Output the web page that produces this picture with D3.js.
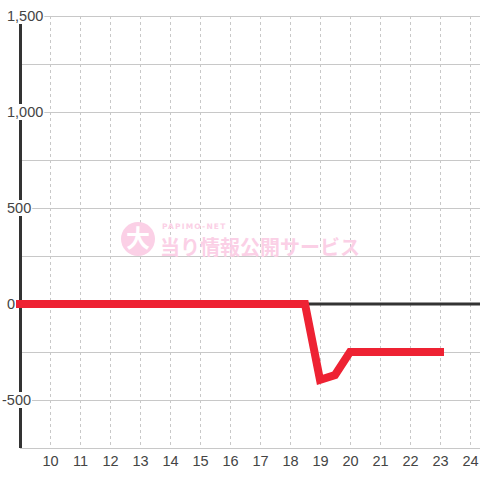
<!DOCTYPE html>
<html><head><meta charset="utf-8">
<script src="https://cdn.jsdelivr.net/npm/d3@7"></script>
<style>html,body{margin:0;padding:0;background:#fff}svg{display:block}</style>
</head><body>
<script>
const xVals = [9, 18.5, 19, 19.5, 20, 23];
const yVals = [0, 0, -395, -370, -250, -250];
const xTicks = [10,11,12,13,14,15,16,17,18,19,20,21,22,23,24];
const yTickLabels = [1500, 1000, 500, 0, -500];
const yGrid = [1500,1250,1000,750,500,250,0,-250,-500,-750];

const W = 480, H = 480;
const svg = d3.select("body").append("svg").attr("width", W).attr("height", H);
svg.append("rect").attr("width", W).attr("height", H).attr("fill", "#fff");

const x = d3.scaleLinear().domain([9, 24]).range([20, 470]);
const y = d3.scaleLinear().domain([-750, 1500]).range([448, 16]);

// vertical dashed grid
svg.append("g").selectAll("line").data(xTicks).join("line")
  .attr("x1", d => x(d) + 0.5).attr("x2", d => x(d) + 0.5)
  .attr("y1", 16).attr("y2", 448)
  .attr("stroke", "#c8c8c8").attr("stroke-dasharray", "3,3").attr("stroke-width", 1);

// horizontal grid
svg.append("g").selectAll("line").data(yGrid).join("line")
  .attr("x1", 20).attr("x2", W)
  .attr("y1", d => y(d) + 0.5).attr("y2", d => y(d) + 0.5)
  .attr("stroke", "#c8c8c8").attr("stroke-width", 1);

// watermark
const wm = svg.append("g");
wm.append("circle").attr("cx", 138).attr("cy", 239).attr("r", 17).attr("fill", "#fbd0e6");
wm.append("text").attr("x", 138).attr("y", 247).attr("text-anchor", "middle")
  .attr("font-family", "Noto Sans CJK JP").attr("font-weight", "bold").attr("font-size", 24)
  .attr("fill", "#fff").text("大");
wm.append("text").attr("x", 162).attr("y", 229)
  .attr("font-family", "DejaVu Sans").attr("font-weight", "bold").attr("font-size", 7.5)
  .attr("letter-spacing", 1.2).attr("fill", "#fbd0e6").text("PAPIMO-NET");
wm.append("text").attr("x", 160).attr("y", 255)
  .attr("font-family", "Noto Sans CJK JP").attr("font-weight", "bold").attr("font-size", 20)
  .attr("fill", "#fbd0e6").text("当り情報公開サービス");

// y axis line
svg.append("line").attr("x1", 20.5).attr("x2", 20.5).attr("y1", 16).attr("y2", 448)
  .attr("stroke", "#333").attr("stroke-width", 3);

// zero line
svg.append("line").attr("x1", 20).attr("x2", W).attr("y1", y(0)).attr("y2", y(0))
  .attr("stroke", "#333").attr("stroke-width", 3);

// y labels with background
const fmt = d3.format(",");
const yl = svg.append("g").selectAll("g").data(yTickLabels).join("g");
yl.each(function(d) {
  const g = d3.select(this);
  const t = g.append("text").attr("x", 7).attr("y", y(d) + 5)
    .attr("font-family", "Liberation Sans, Arial, sans-serif").attr("font-size", 14.5)
    .attr("fill", "#444").text(fmt(d).replace("−", "-"));
  if (d < 0) t.attr("x", 2);
  const bb = t.node().getBBox();
  g.insert("rect", "text").attr("x", bb.x - 1).attr("y", y(d) - 8)
    .attr("width", bb.width + 2).attr("height", 16).attr("fill", "#fff");
});

// data line (drawn over axis)
const line = d3.line().x((d, i) => x(xVals[i])).y(d => y(d));
svg.append("path").datum(yVals).attr("d", line)
  .attr("fill", "none").attr("stroke", "#ee2233").attr("stroke-width", 8)
  .attr("stroke-linejoin", "miter").attr("stroke-linecap", "square");

// x labels
svg.append("g").selectAll("text").data(xTicks).join("text")
  .attr("x", d => x(d) + 0.5).attr("y", 466).attr("text-anchor", "middle")
  .attr("font-family", "Liberation Sans, Arial, sans-serif").attr("font-size", 14.5)
  .attr("fill", "#444").text(d => d);
</script>
</body></html>
